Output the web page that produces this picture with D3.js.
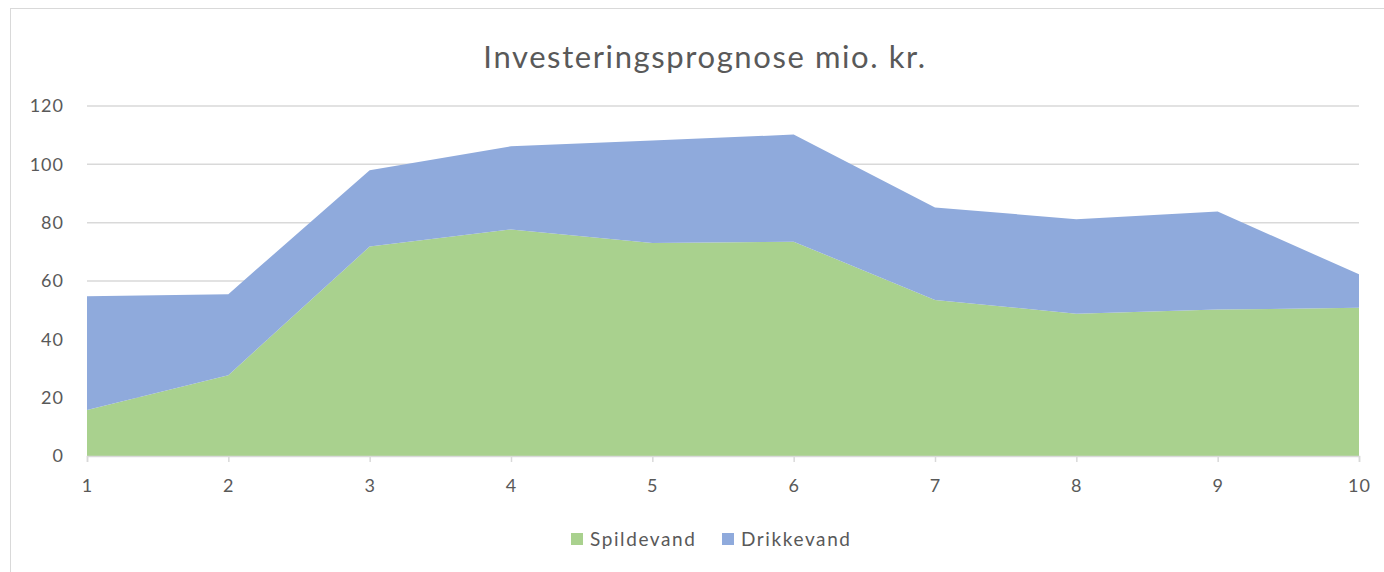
<!DOCTYPE html>
<html>
<head>
<meta charset="utf-8">
<script src="https://cdn.jsdelivr.net/npm/d3@7"></script>
<style>
  body { margin: 0; background: #fff; }
  text { font-family: Lato, "Open Sans", sans-serif; fill: #595959; }
</style>
</head>
<body>
<div id="chart"></div>
<script>
// data
const years = [1, 2, 3, 4, 5, 6, 7, 8, 9, 10];
const spildevand = [15.8, 27.7, 71.8, 77.7, 73.0, 73.5, 53.5, 48.8, 50.2, 50.8];
const drikkevand = [39.0, 27.8, 26.2, 28.5, 35.2, 36.7, 31.7, 32.4, 33.6, 11.5];
const yTicks = [0, 20, 40, 60, 80, 100, 120];
const seriesNames = ['Spildevand', 'Drikkevand'];
const colors = ['#a9d18e', '#8faadc'];

// chart setup
const W = 1384, H = 572;
const margin = { top: 106, right: 25, bottom: 116, left: 87 };
const width = W - margin.left - margin.right;
const height = H - margin.top - margin.bottom;

const svg = d3.select('#chart').append('svg')
  .attr('width', W)
  .attr('height', H);

// outer chart border
svg.append('rect')
  .attr('x', 10.5).attr('y', 8.5)
  .attr('width', W).attr('height', H)
  .attr('fill', 'none')
  .attr('stroke', '#d9d9d9');

svg.append('text')
  .attr('x', 705)
  .attr('y', 68)
  .attr('text-anchor', 'middle')
  .style('font-size', '31px')
  .style('letter-spacing', '1.6px')
  .text('Investeringsprognose mio. kr.');

const group = svg.append('g').attr('transform', `translate(${margin.left}, ${margin.top})`);

const x = d3.scalePoint().domain(years).range([0, width]);
const y = d3.scaleLinear().domain([0, 120]).range([height, 0]);

// gridlines
group.selectAll('.grid')
  .data(yTicks.filter(d => d > 0))
  .enter().append('line')
  .attr('x1', 0).attr('x2', width)
  .attr('y1', d => y(d)).attr('y2', d => y(d))
  .attr('stroke', '#d9d9d9')
  .attr('stroke-width', 1.5);

// stacked areas
const table = years.map((yr, i) => ({ year: yr, Spildevand: spildevand[i], Drikkevand: drikkevand[i] }));
const stack = d3.stack().keys(seriesNames)(table);
const area = d3.area()
  .x(d => x(d.data.year))
  .y0(d => y(d[0]))
  .y1(d => y(d[1]));

group.selectAll('.area')
  .data(stack)
  .enter().append('path')
  .attr('d', area)
  .attr('fill', (d, i) => colors[i]);

// x axis
const xAxis = group.append('g')
  .attr('transform', `translate(0, ${height})`)
  .call(d3.axisBottom(x).tickSize(6).tickPadding(17));
xAxis.select('.domain').attr('stroke', '#d9d9d9').attr('stroke-width', 1.5);
xAxis.selectAll('.tick line').attr('stroke', '#d9d9d9').attr('stroke-width', 1.5);
xAxis.selectAll('text').style('font-size', '18px').attr('fill', '#595959')
  .style('letter-spacing', '1px')
  .style('font-family', 'Lato, "Open Sans", sans-serif');

// y axis
const yAxis = group.append('g')
  .call(d3.axisLeft(y).tickValues(yTicks).tickSize(0).tickPadding(23));
yAxis.select('.domain').remove();
yAxis.selectAll('text').style('font-size', '18px').attr('fill', '#595959')
  .style('letter-spacing', '1px')
  .style('font-family', 'Lato, "Open Sans", sans-serif');

// legend
const legendX = [571, 722];
const legend = svg.selectAll('.legend')
  .data(seriesNames)
  .enter().append('g')
  .attr('transform', (d, i) => `translate(${legendX[i]}, 539)`);
legend.append('rect')
  .attr('x', 0).attr('y', -6)
  .attr('width', 12).attr('height', 12)
  .attr('fill', (d, i) => colors[i]);
legend.append('text')
  .attr('x', 19).attr('y', 7)
  .style('font-size', '19px')
  .style('letter-spacing', '1.6px')
  .text(d => d);
</script>
</body>
</html>
